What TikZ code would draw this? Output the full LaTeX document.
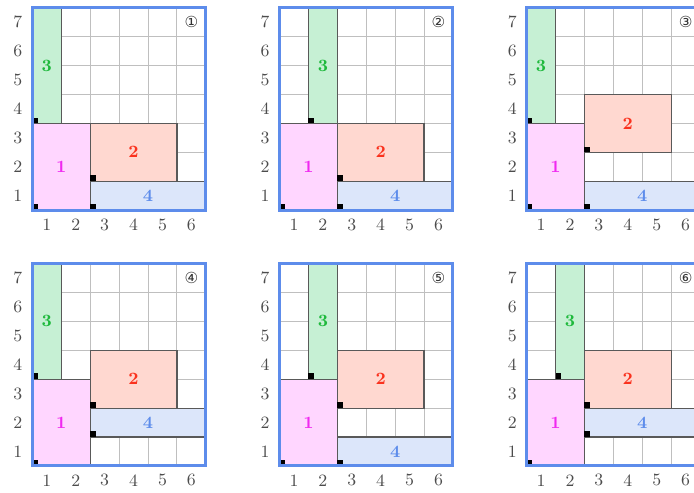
\documentclass[tikz,border=0pt]{standalone}
\usepackage{fontspec}
\usepackage{xcolor}
\usepackage{tikz}
\newfontfamily\circfont{DejaVu Sans}
\definecolor{framebl}{RGB}{93,140,235}
\definecolor{pinkfill}{RGB}{255,214,255}
\definecolor{pinktxt}{RGB}{240,40,240}
\definecolor{redfill}{RGB}{255,216,208}
\definecolor{redtxt}{RGB}{250,50,30}
\definecolor{greenfill}{RGB}{198,240,212}
\definecolor{greentxt}{RGB}{30,185,60}
\definecolor{bluefill}{RGB}{220,230,250}
\definecolor{bluetxt}{RGB}{93,140,235}
% one packing: #1 name, #2 shift, #3 tag, #4 left of box 3, #5 bottom of box 2, #6 bottom of box 4
\newcommand{\packing}[6]{%
  \begin{scope}[shift={#2}]
    \draw[gridline, shift={(0.5,0.5)}] (0,0) grid (6,7);
    \node[blk, fill=pinkfill, text=pinktxt, minimum width=1cm, minimum height=1.5cm] (#1-b1) at (1.5,2) {1};
    \node[blk, fill=greenfill, text=greentxt, minimum width=0.5cm, minimum height=2cm] (#1-b3) at (#4+0.5,5.5) {3};
    \node[blk, fill=redfill, text=redtxt, minimum width=1.5cm, minimum height=1cm] (#1-b2) at (4,#5+1) {2};
    \node[blk, fill=bluefill, text=bluetxt, minimum width=2cm, minimum height=0.5cm] (#1-b4) at (4.5,#6+0.5) {4};
    \foreach \b in {b1,b2,b3,b4}
      \fill (#1-\b.south west) rectangle ++(0.2,0.2);
    \draw[frame] (0.5,0.5) rectangle (6.5,7.5);
    \node[tag] (#1-tag) at (6,7) {#3};
    \foreach \i in {1,...,6}
      \node[axlab] (#1-x\i) at (\i,0) {\i};
    \foreach \j in {1,...,7}
      \node[axlab] (#1-y\j) at (0,\j) {\j};
  \end{scope}}

\begin{document}
\begin{tikzpicture}[
  x=0.5cm, y=0.5cm,
  font=\fontsize{8.5}{10}\selectfont,
  gridline/.style={draw=black!25, line width=0.4pt, step=0.5cm},
  blk/.style={draw=black!65, line width=0.6pt, inner sep=0pt, outer sep=0pt, font=\fontsize{8.5}{10}\selectfont\bfseries},
  frame/.style={draw=framebl, line width=1.5pt},
  axlab/.style={text=black!70, inner sep=0pt},
  tag/.style={font=\circfont\fontsize{7.5}{9}\selectfont, text=black!80, inner sep=0pt}
]
  \useasboundingbox (-0.62,-9.26) rectangle (23.39,7.77);

  \packing{p1}{(0,0)}{①}{0.5}{1.5}{0.5}
  \packing{p2}{(8.55,0)}{②}{1.5}{1.5}{0.5}
  \packing{p3}{(17.1,0)}{③}{0.5}{2.5}{0.5}
  \packing{p4}{(0,-8.85)}{④}{0.5}{2.5}{1.5}
  \packing{p5}{(8.55,-8.85)}{⑤}{1.5}{2.5}{0.5}
  \packing{p6}{(17.1,-8.85)}{⑥}{1.5}{2.5}{1.5}
\end{tikzpicture}
\end{document}
